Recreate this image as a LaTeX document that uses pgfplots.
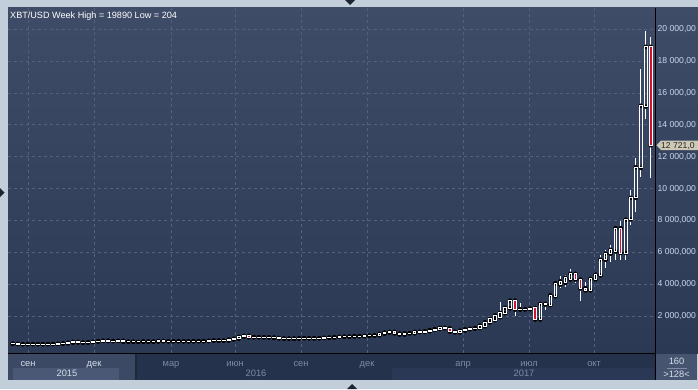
\documentclass[border=0pt]{standalone}
\usepackage{pgfplots}
\pgfplotsset{compat=1.18}
\usepackage{pgfplotstable}
\usepackage{fontspec}
\setmainfont{Liberation Sans}
\definecolor{outer}{HTML}{C3CEDB}
\definecolor{bgtop}{HTML}{3F4C68}
\definecolor{bgbot}{HTML}{2B3955}
\definecolor{gridc}{HTML}{53617C}
\definecolor{candlered}{HTML}{D2122E}
\definecolor{bandA}{HTML}{3C4965}
\definecolor{bandAy}{HTML}{4A5875}
\definecolor{bandD}{HTML}{25324C}
\definecolor{bandB}{HTML}{2B3855}
\definecolor{boxr}{HTML}{46546F}
\definecolor{mdim}{HTML}{7D8BA5}
\definecolor{mlight}{HTML}{D6DFEC}
\definecolor{ylab}{HTML}{CAD8EE}
\definecolor{tagc}{HTML}{CDC9B5}
\definecolor{tri}{HTML}{1C2430}

\pgfplotstableread{
i O H L C
0 265 268 255 260
1 260 262 204 232
2 232 238 220 229
3 229 236 224 233
4 233 245 226 240
5 240 242 228 231
6 231 236 226 233
7 233 240 230 236
8 236 246 235 245
9 245 270 243 262
10 262 290 260 285
11 285 330 282 325
12 325 502 325 385
13 385 390 305 335
14 335 345 310 325
15 325 375 320 365
16 365 392 355 388
17 388 465 380 435
18 435 468 420 455
19 455 462 410 422
20 422 440 415 432
21 432 455 418 448
22 448 455 365 384
23 384 400 365 392
24 392 420 368 380
25 380 388 358 375
26 375 415 370 410
27 410 420 365 375
28 375 405 370 400
29 400 440 395 438
30 438 445 405 415
31 415 425 400 410
32 410 440 405 432
33 432 436 410 412
34 412 420 408 415
35 415 418 405 410
36 410 425 408 420
37 420 428 415 422
38 422 430 418 428
39 428 462 425 455
40 455 470 440 462
41 462 465 440 452
42 452 460 445 455
43 455 540 450 530
44 530 580 515 575
45 575 720 570 700
46 700 780 650 760
47 760 770 560 660
48 660 705 640 680
49 680 690 630 660
50 660 670 655 668
51 668 680 645 655
52 655 660 605 625
53 625 630 520 590
54 590 600 565 580
55 580 595 575 590
56 590 592 565 575
57 575 612 570 608
58 608 612 600 605
59 605 610 595 602
60 602 608 592 598
61 598 620 595 615
62 615 640 610 638
63 638 650 628 645
64 645 690 640 685
65 685 710 675 700
66 700 745 690 705
67 705 720 690 715
68 715 745 710 740
69 740 750 730 735
70 735 760 725 755
71 755 780 750 770
72 770 790 760 785
73 785 900 780 890
74 890 975 885 960
75 960 1150 950 1010
76 1010 1020 770 900
77 900 915 750 830
78 830 925 820 920
79 920 930 880 915
80 915 1025 905 1015
81 1015 1030 975 1000
82 1000 1050 980 1045
83 1045 1140 1040 1125
84 1125 1200 1100 1185
85 1185 1280 1170 1265
86 1265 1330 1100 1230
87 1230 1260 950 1020
88 1020 1060 890 970
89 970 1090 940 1080
90 1080 1200 1070 1180
91 1180 1215 1150 1200
92 1200 1260 1185 1250
93 1240 1410 1230 1400
94 1360 1620 1340 1610
95 1600 1830 1560 1820
96 1740 2050 1720 2030
97 1930 2860 1900 2200
98 2180 2520 2120 2510
99 2480 2980 2450 2970
100 2970 2990 1990 2400
101 2400 2790 2350 2420
102 2420 2500 2250 2410
103 2430 2520 2380 2460
104 2510 2530 1720 1780
105 1780 2880 1760 2760
106 2760 2830 2380 2720
107 2680 3320 2660 3300
108 3240 4080 3200 4060
109 3970 4500 3770 4180
110 4080 4560 3800 4400
111 4290 4960 4250 4650
112 4650 4750 4060 4290
113 4290 4300 2930 3730
114 3760 4150 3460 3600
115 3610 4380 3580 4340
116 4290 4700 4150 4600
117 4550 5860 4530 5540
118 5530 6170 5030 5920
119 5910 6430 5380 6160
120 6050 7600 5500 7520
121 7520 7950 5540 5960
122 5960 8050 5500 8050
123 8060 9930 7740 9420
124 9420 11900 8500 11340
125 11300 17500 10750 15200
126 15150 19890 14400 18900
127 18900 19500 10650 12721
}\candles

\pgfplotsset{
  candleaxis/.style={
    at={(12.70pt,41.10pt)}, anchor=origin, scale only axis,
    width=647pt, height=345pt,
    xmin=-0.935, xmax=127.84, ymin=-320, ymax=21337,
    axis line style={draw=none}, major tick length=0pt,
    scaled ticks=false,
    clip=false,
  }
}

\begin{document}
\begin{tikzpicture}[x=1pt,y=1pt]
\useasboundingbox (0,0) rectangle (698,389);
\fill[outer] (0,0) rectangle (698,389);
% panel background
\shade[top color=bgtop, bottom color=bgbot] (8,36) rectangle (698,381);
% bottom band
\fill[bandA] (8,9) rectangle (135,35.5);
\fill[bandAy] (13,9) rectangle (119,21);
\fill[bandD] (137,9) rectangle (655,35.5);
\fill[bandB] (392,9) rectangle (654,21);
\fill[tri!70!bandD] (135,9) rectangle (137,35.5);
\fill[boxr] (656,9) rectangle (697,35);
\draw[mdim, line width=0.6pt] (667,21) -- (687,21);
\node[font=\fontsize{9.3}{11}\selectfont, text=mlight, anchor=base] at (676.5,24.5) {160};
\node[font=\fontsize{9.3}{11}\selectfont, text=mlight, anchor=base] at (676.5,12) {>128<};
% year labels
\node[font=\fontsize{9.3}{11}\selectfont, text=mlight, anchor=base] at (67,12.5) {2015};
\node[font=\fontsize{9.3}{11}\selectfont, text=mdim, anchor=base] at (256,12.5) {2016};
\node[font=\fontsize{9.3}{11}\selectfont, text=mdim, anchor=base] at (524,12.5) {2017};

% grid, wicks and labels
\begin{axis}[candleaxis,
  xtick={3.05,16.18,31.51,44.25,57.38,70.52,89.63,102.77,115.71},
  xticklabels={\textcolor{mlight}{сен},\textcolor{mlight}{дек},мар,июн,сен,дек,апр,июл,окт},
  xticklabel style={anchor=base, yshift=-13pt, text=mdim, font=\fontsize{9.3}{11}\selectfont},
  ytick={2000,4000,...,20000},
  yticklabels={{2 000,000},{4 000,000},{6 000,000},{8 000,000},{10 000,00},{12 000,00},{14 000,00},{16 000,00},{18 000,00},{20 000,00}},
  yticklabel pos=right,
  yticklabel style={anchor=west, inner sep=0pt, xshift=2.5pt, text=ylab, font=\fontsize{8.6}{11}\selectfont},
  xmajorgrids, ymajorgrids,
  grid style={gridc, line width=0.8pt, dash pattern=on 3pt off 3pt},
]
\addplot[only marks, mark=none, error bars/.cd, y dir=minus, y explicit, error mark=none,
  error bar style={draw=white, line width=0.9pt, solid}]
  table[x=i, y expr={min(\thisrow{O},\thisrow{C})}, y error minus expr={min(\thisrow{O},\thisrow{C})-\thisrow{L}}] {\candles};
\addplot[only marks, mark=none, error bars/.cd, y dir=plus, y explicit, error mark=none,
  error bar style={draw=white, line width=0.9pt, solid}]
  table[x=i, y expr={max(\thisrow{O},\thisrow{C})}, y error plus expr={\thisrow{H}-max(\thisrow{O},\thisrow{C})}] {\candles};
\end{axis}

% bodies
\begin{axis}[candleaxis, xtick=\empty, ytick=\empty, ybar stacked, bar width=2.6pt]
\addplot[draw=none, fill=none] table[x=i, y expr={min(\thisrow{O},\thisrow{C})}] {\candles};
\addplot[draw=white, fill=none, line width=0.9pt] table[x=i, y expr={max(\thisrow{C}-\thisrow{O},0)}] {\candles};
\addplot[draw=white, fill=candlered, line width=0.9pt] table[x=i, y expr={max(\thisrow{O}-\thisrow{C},0)}] {\candles};
\end{axis}

% frame lines
\draw[black, line width=1pt] (8,35.5) -- (655.5,35.5);
\draw[black, line width=1pt] (655.5,9) -- (655.5,381);
% title
\node[font=\fontsize{9.1}{11}\selectfont, text=white, anchor=base west, inner sep=0pt] at (10,370.3) {XBT/USD Week High = 19890 Low = 204};
% price tag
\fill[tagc] (656.5,243.7) -- (661,248.5) -- (698,248.5) -- (698,239) -- (661,239) -- cycle;
\node[font=\fontsize{8.6}{11}\selectfont, text=black!85, anchor=base west, inner sep=0pt] at (661,240.6) {12 721,0};
% navigation triangles
\fill[tri] (345,389) -- (355,389) -- (350,384) -- cycle;
\fill[tri] (347,0) -- (357,0) -- (352,5) -- cycle;
\fill[tri] (0,192) -- (0,201) -- (4.5,196.5) -- cycle;
\end{tikzpicture}
\end{document}
